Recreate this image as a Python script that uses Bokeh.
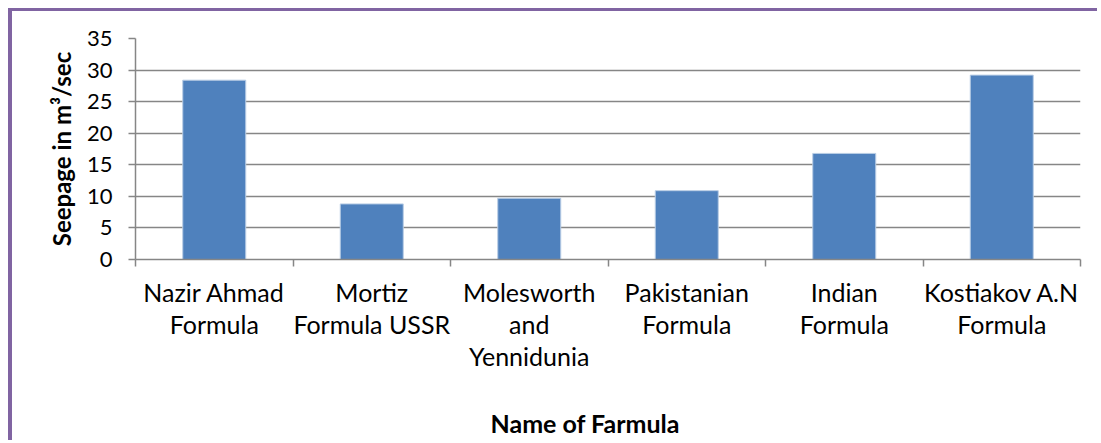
from bokeh.plotting import figure
from bokeh.models import FixedTicker, Range1d, Title, ColumnDataSource
from bokeh.embed import file_html
from bokeh.resources import INLINE

categories = ["Nazir Ahmad\nFormula", "Mortiz\nFormula USSR", "Molesworth\nand\nYennidunia",
              "Pakistanian\nFormula", "Indian\nFormula", "Kostiakov A.N\nFormula"]
seepage = [28.4, 8.8, 9.7, 10.9, 16.8, 29.2]
y_ticks = [0, 5, 10, 15, 20, 25, 30, 35]
y_title = "Seepage in m\u00b3/sec"
x_title = "Name of Farmula"

FONT = "Lato"
GRID = "#868686"

centers = [i + 0.5 for i in range(len(categories))]
bounds = list(range(len(categories) + 1))
src = ColumnDataSource(dict(x=centers, top=seepage))

p = figure(width=1089, height=432, output_backend="svg", toolbar_location=None,
           x_range=Range1d(0, len(categories)), y_range=Range1d(0, 35),
           min_border_left=123, min_border_right=21, min_border_top=27, min_border_bottom=184)
p.styles = {"margin-top": "8px", "margin-left": "8px",
            "border-top": "3px solid #8064A2", "border-left": "4px solid #8064A2"}
p.outline_line_color = None
p.background_fill_color = "white"
p.border_fill_color = "white"

p.vbar(x="x", top="top", width=0.4, source=src, fill_color="#4F81BD",
       line_color="#B9CDE5", line_width=1)

# y axis
p.yaxis.ticker = FixedTicker(ticks=y_ticks)
p.yaxis.axis_line_color = GRID
p.yaxis.axis_line_width = 1.5
p.yaxis.major_tick_line_color = GRID
p.yaxis.major_tick_line_width = 1.5
p.yaxis.major_tick_out = 7
p.yaxis.major_tick_in = 0
p.yaxis.minor_tick_line_color = None
p.yaxis.major_label_text_font = FONT
p.yaxis.major_label_text_font_size = "22px"
p.yaxis.major_label_text_color = "black"
p.yaxis.major_label_standoff = 16
p.yaxis.axis_label = y_title
p.yaxis.axis_label_text_font = FONT
p.yaxis.axis_label_text_font_style = "bold"
p.yaxis.axis_label_text_font_size = "24px"
p.yaxis.axis_label_text_color = "black"
p.yaxis.axis_label_standoff = 8

# x axis: labels at centres, tick marks at category boundaries
p.xaxis.ticker = FixedTicker(ticks=centers, minor_ticks=bounds)
p.xaxis.major_label_overrides = {c: lab for c, lab in zip(centers, categories)}
p.xaxis.major_tick_line_color = None
p.xaxis.minor_tick_line_color = GRID
p.xaxis.minor_tick_line_width = 1.5
p.xaxis.minor_tick_out = 7
p.xaxis.minor_tick_in = 0
p.xaxis.axis_line_color = GRID
p.xaxis.axis_line_width = 1.5
p.xaxis.major_label_text_font = FONT
p.xaxis.major_label_text_font_size = "25px"
p.xaxis.major_label_text_color = "black"
p.xaxis.major_label_text_line_height = 1.08
p.xaxis.major_label_standoff = 10

p.xgrid.grid_line_color = None
p.ygrid.ticker = FixedTicker(ticks=y_ticks)
p.ygrid.grid_line_color = GRID
p.ygrid.grid_line_width = 1.5

# vertical spacer between the category labels and the axis title
p.add_layout(Title(text=" ", standoff=12, text_font=FONT, text_font_size="14px"), "below")
p.add_layout(Title(text=x_title, align="left", offset=355, standoff=0,
                   text_font=FONT, text_font_style="bold", text_font_size="25px",
                   text_color="black"), "below")

open("out.html", "w").write(file_html(p, INLINE))
